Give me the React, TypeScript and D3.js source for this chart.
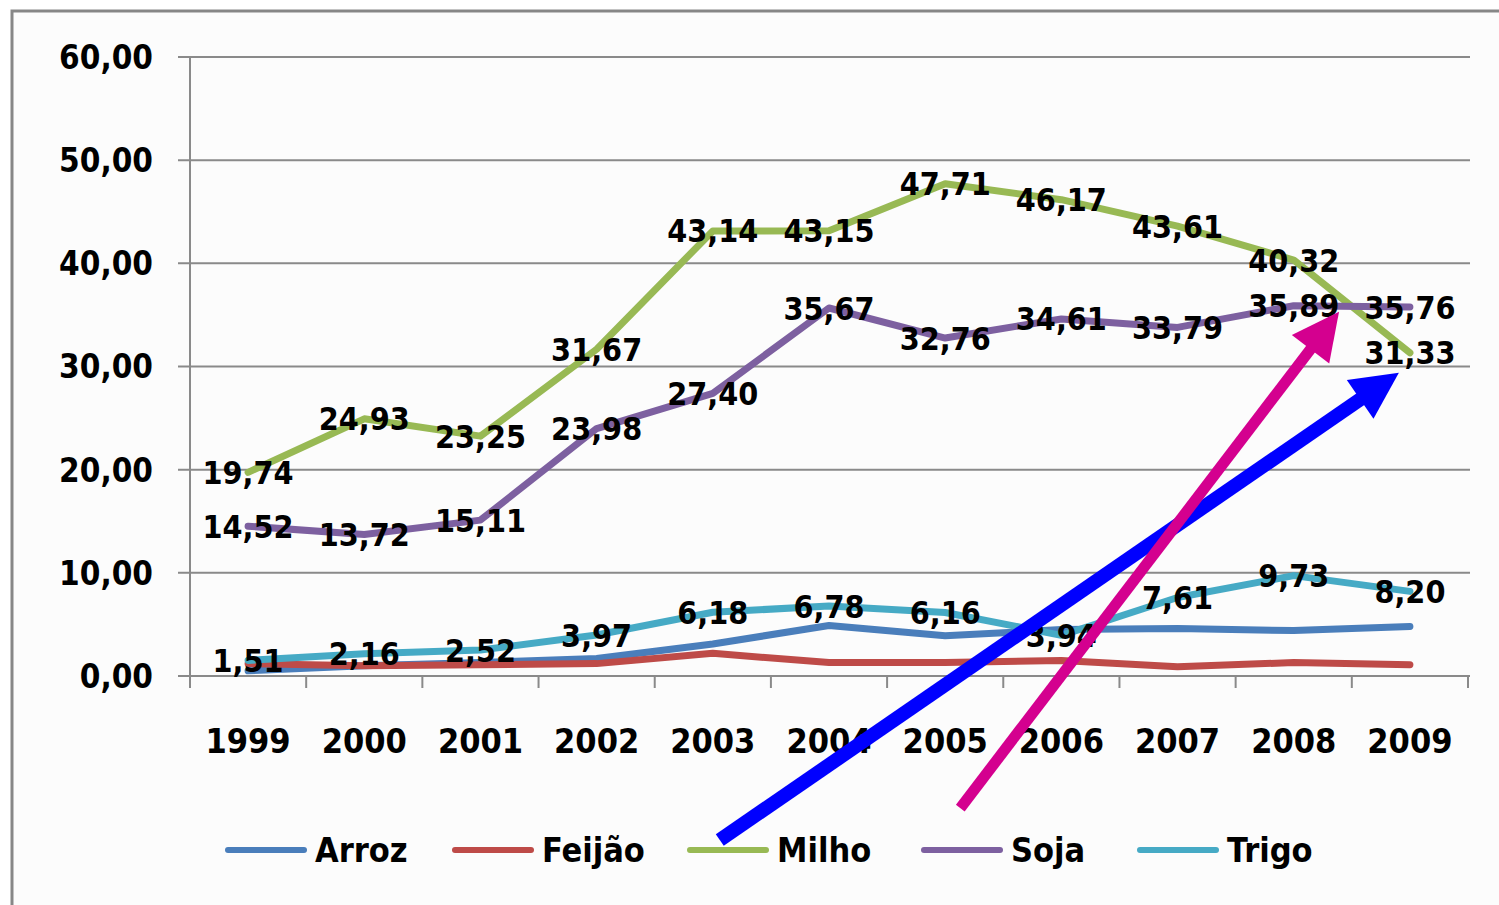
import React from 'react';
import * as d3 from 'd3';

const years = ['1999', '2000', '2001', '2002', '2003', '2004', '2005', '2006', '2007', '2008', '2009'];
const arroz = [0.5, 1.0, 1.3, 1.7, 3.1, 4.9, 3.9, 4.5, 4.6, 4.4, 4.8];
const feijao = [1.2, 1.0, 1.1, 1.2, 2.2, 1.3, 1.3, 1.5, 0.9, 1.3, 1.1];
const milho = [19.74, 24.93, 23.25, 31.67, 43.14, 43.15, 47.71, 46.17, 43.61, 40.32, 31.33];
const soja = [14.52, 13.72, 15.11, 23.98, 27.4, 35.67, 32.76, 34.61, 33.79, 35.89, 35.76];
const trigo = [1.51, 2.16, 2.52, 3.97, 6.18, 6.78, 6.16, 3.94, 7.61, 9.73, 8.2];
const yTicks = [0, 10, 20, 30, 40, 50, 60];

const series = [
  { name: 'Arroz', values: arroz, color: '#4A7EBB', labeled: false },
  { name: 'Feijão', values: feijao, color: '#BE4B48', labeled: false },
  { name: 'Milho', values: milho, color: '#98B954', labeled: true },
  { name: 'Soja', values: soja, color: '#7D60A0', labeled: true },
  { name: 'Trigo', values: trigo, color: '#46AAC5', labeled: true },
];

// Annotation arrows, in (category index, value) space
const arrows = [
  { color: '#0000FF', from: [4.06, -15.9], to: [9.905, 29.4], width: 14 },
  { color: '#D4008F', from: [6.13, -12.8], to: [9.39, 35.3], width: 11 },
];

const FONT = '"DejaVu Sans Condensed", "DejaVu Sans", sans-serif';
const fmt = (v: number) => v.toFixed(2).replace('.', ',');

export default function App() {
  const W = 1499;
  const H = 905;
  const plot = { left: 190, right: 1468, top: 57, bottom: 676 };

  const x = d3.scaleBand<string>().domain(years).range([plot.left, plot.right]).padding(0);
  const bw = x.bandwidth();
  const cx = (yr: string) => (x(yr) as number) + bw / 2;
  const y = d3.scaleLinear().domain([0, 60]).range([plot.bottom, plot.top]);
  const xi = d3.scaleLinear().domain([0, years.length - 1]).range([cx(years[0]), cx(years[years.length - 1])]);

  const line = d3
    .line<number>()
    .x((_, i) => cx(years[i]))
    .y((v) => y(v));

  const boundaries = [...years.map((yr) => x(yr) as number), plot.right];

  const legendItems = [
    { x: 225 },
    { x: 452 },
    { x: 687 },
    { x: 921 },
    { x: 1137 },
  ];

  return (
    <svg
      width={W}
      height={H}
      style={{ position: 'absolute', left: 0, top: 0, display: 'block', background: '#ffffff' }}
      fontFamily={FONT}
    >
      <rect x={12} y={11} width={W + 20} height={H + 20} fill="#FCFCFC" stroke="#878787" strokeWidth={3} />

      {/* gridlines and y ticks */}
      {yTicks.map((t) => (
        <line key={t} x1={plot.left - 12} x2={plot.right + 2} y1={y(t)} y2={y(t)} stroke="#8A8A8A" strokeWidth={2} />
      ))}
      <line x1={plot.left} x2={plot.left} y1={plot.top} y2={plot.bottom} stroke="#8A8A8A" strokeWidth={2} />
      {boundaries.map((b, i) => (
        <line key={i} x1={b} x2={b} y1={plot.bottom} y2={plot.bottom + 12} stroke="#8A8A8A" strokeWidth={2} />
      ))}

      {yTicks.map((t) => (
        <text key={t} x={153} y={y(t)} dy="0.36em" textAnchor="end" fontSize={33} fontWeight="bold" fill="#000">
          {fmt(t)}
        </text>
      ))}
      {years.map((yr) => (
        <text key={yr} x={cx(yr)} y={741} dy="0.36em" textAnchor="middle" fontSize={34} fontWeight="bold" fill="#000">
          {yr}
        </text>
      ))}

      {/* series lines */}
      {series.map((s) => (
        <path
          key={s.name}
          d={line(s.values) as string}
          fill="none"
          stroke={s.color}
          strokeWidth={7}
          strokeLinejoin="round"
          strokeLinecap="round"
        />
      ))}

      {/* data labels */}
      {series
        .filter((s) => s.labeled)
        .map((s) =>
          s.values.map((v, i) => (
            <text
              key={s.name + i}
              x={cx(years[i])}
              y={y(v)}
              dy="0.36em"
              textAnchor="middle"
              fontSize={32}
              fontWeight="bold"
              fill="#000"
            >
              {fmt(v)}
            </text>
          ))
        )}

      {/* legend */}
      {series.map((s, i) => (
        <g key={s.name} transform={`translate(${legendItems[i].x},850)`}>
          <line x1={3} x2={79} y1={0} y2={0} stroke={s.color} strokeWidth={6} strokeLinecap="round" />
          <text x={90} y={0} dy="0.36em" fontSize={34} fontWeight="bold" fill="#000">
            {s.name}
          </text>
        </g>
      ))}

      {/* annotation arrows */}
      {arrows.map((a, i) => {
        const x0 = xi(a.from[0]);
        const y0 = y(a.from[1]);
        const x1 = xi(a.to[0]);
        const y1 = y(a.to[1]);
        const dx = x1 - x0;
        const dy = y1 - y0;
        const len = Math.hypot(dx, dy);
        const ux = dx / len;
        const uy = dy / len;
        const headLen = 47;
        const headHalf = 23.5;
        const bx = x1 - ux * headLen;
        const by = y1 - uy * headLen;
        const px = -uy;
        const py = ux;
        const head = [
          [x1, y1],
          [bx + px * headHalf, by + py * headHalf],
          [bx - px * headHalf, by - py * headHalf],
        ];
        return (
          <g key={i}>
            <line x1={x0} y1={y0} x2={bx + ux * 2} y2={by + uy * 2} stroke={a.color} strokeWidth={a.width} />
            <polygon points={head.map((p) => p.join(',')).join(' ')} fill={a.color} />
          </g>
        );
      })}
    </svg>
  );
}
